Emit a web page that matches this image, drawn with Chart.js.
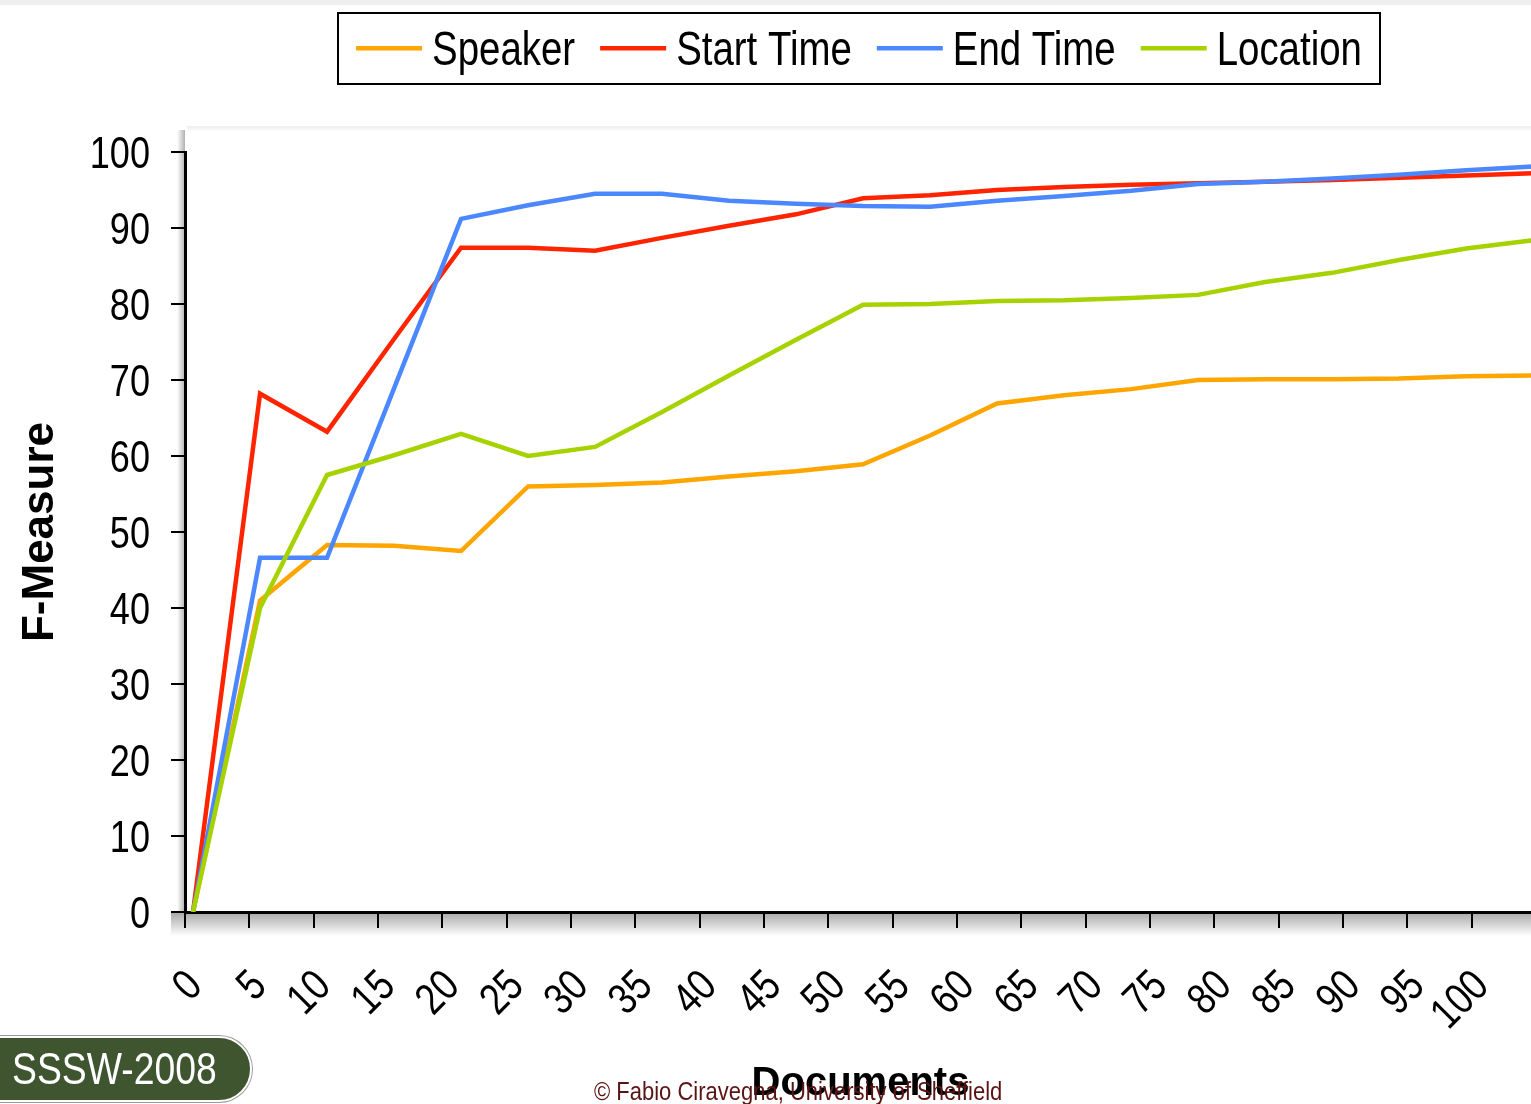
<!DOCTYPE html>
<html>
<head>
<meta charset="utf-8">
<script src="https://cdn.jsdelivr.net/npm/chart.js@4.4.1/dist/chart.umd.min.js"></script>
<style>
  html, body { margin:0; padding:0; background:#fff; width:1531px; height:1104px; overflow:hidden; position:relative; }
  #topbar { position:absolute; left:0; top:0; width:1531px; height:5px; background:#efefef; }
  #wrap { position:absolute; left:0; top:0; width:1560px; height:1104px; }
  #badge { position:absolute; left:-40px; top:1036px; width:288px; height:62px; border-radius:33px;
           background:#3e5530; border:2px solid #fff; box-shadow:0 0 0 1px #9a9a9a; }
  #badge span { position:absolute; left:50px; top:7px; color:#fff; font:45px "Liberation Sans", Arial, sans-serif;
                line-height:48px; white-space:nowrap; transform:scaleX(0.83); transform-origin:0 0; }
  #copy { position:absolute; left:594px; top:1077px; color:#5a1414; font:25px "Liberation Sans", Arial, sans-serif;
          line-height:28px; white-space:nowrap; transform:scaleX(0.88); transform-origin:0 0; }
</style>
</head>
<body>
<div id="topbar"></div>
<div id="wrap"><canvas id="c" width="1560" height="1104"></canvas></div>
<div id="badge"><span>SSSW-2008</span></div>
<div id="copy">© Fabio Ciravegna, University of Sheffield</div>
<script>
// ---- data ----
const categories = [0, 5, 10, 15, 20, 25, 30, 35, 40, 45, 50, 55, 60, 65, 70, 75, 80, 85, 90, 95, 100];
const xTickLabels = ['0','5','10','15','20','25','30','35','40','45','50','55','60','65','70','75','80','85','90','95','100'];
const yTickLabels = ['0','10','20','30','40','50','60','70','80','90','100'];
const seriesNames = ['Speaker', 'Start Time', 'End Time', 'Location'];
const speaker   = [0, 41.0, 48.3, 48.2, 47.5, 56.0, 56.2, 56.5, 57.3, 58.0, 58.9, 62.7, 66.9, 68.0, 68.8, 70.0, 70.1, 70.1, 70.2, 70.5, 70.6];
const startTime = [0, 68.2, 63.2, 75.4, 87.4, 87.4, 87.0, 88.7, 90.3, 91.8, 93.9, 94.3, 95.0, 95.4, 95.7, 95.9, 96.1, 96.3, 96.6, 96.9, 97.2];
const endTime   = [0, 46.6, 46.6, 68.9, 91.2, 93.0, 94.5, 94.5, 93.6, 93.2, 92.9, 92.8, 93.6, 94.2, 94.9, 95.8, 96.1, 96.5, 97.0, 97.6, 98.1];
const locationF = [0, 40.0, 57.5, 60.1, 62.9, 60.0, 61.2, 65.8, 70.6, 75.3, 79.9, 80.0, 80.4, 80.5, 80.8, 81.2, 82.9, 84.1, 85.8, 87.3, 88.4];
const seriesColors = ['#ffa500', '#ff2400', '#4b87ff', '#a6d200'];
const seriesOrder = [3, 2, 1, 0];

const SANS = '"Liberation Sans", Arial, sans-serif';
const allSeries = [speaker, startTime, endTime, locationF];

// narrow text: Liberation Sans squeezed horizontally, centred vertically on the cap height
function narrowText(c, text, x, y, size, sx, align, rot) {
  c.save();
  c.translate(x, y);
  if (rot) c.rotate(rot);
  c.scale(sx, 1);
  c.font = size + 'px ' + SANS;
  c.textAlign = align;
  c.textBaseline = 'alphabetic';
  c.fillStyle = '#000';
  c.fillText(text, 0, 0.358 * size);
  c.restore();
}

const decor = {
  id: 'decor',
  beforeDraw(chart) {
    const c = chart.ctx, a = chart.chartArea;
    c.save();
    let g = c.createLinearGradient(0, a.bottom, 0, a.bottom + 24);
    g.addColorStop(0, 'rgba(0,0,0,0.35)');
    g.addColorStop(1, 'rgba(0,0,0,0)');
    c.fillStyle = g;
    c.fillRect(a.left - 14, a.bottom, chart.width, 24);
    g = c.createLinearGradient(a.left, 0, a.left - 8, 0);
    g.addColorStop(0, 'rgba(0,0,0,0.30)');
    g.addColorStop(1, 'rgba(0,0,0,0)');
    c.fillStyle = g;
    c.fillRect(a.left - 8, a.top - 22, 8, a.bottom - a.top + 22);
    g = c.createLinearGradient(0, a.top - 26, 0, a.top - 20);
    g.addColorStop(0, 'rgba(0,0,0,0.07)');
    g.addColorStop(1, 'rgba(0,0,0,0)');
    c.fillStyle = g;
    c.fillRect(a.left + 2, a.top - 26, chart.width, 6);
    c.restore();
  },
  afterDraw(chart) {
    const c = chart.ctx;
    // tick labels from the scales
    const ys = chart.scales.y;
    ys.ticks.forEach((t, i) => {
      if (yTickLabels[i] === undefined) return;
      narrowText(c, yTickLabels[i], ys.right - 35, ys.getPixelForValue(t.value), 44, 0.82, 'right', 0);
    });
    const xs = chart.scales.x;
    xs.ticks.forEach((t, i) => {
      if (xTickLabels[i] === undefined) return;
      narrowText(c, xTickLabels[i], xs.getPixelForValue(t.value) + 8, xs.top + 65, 44, 0.82, 'right', -Math.PI / 4);
    });
    // legend
    c.save();
    c.strokeStyle = '#000';
    c.lineWidth = 2;
    c.strokeRect(338, 13, 1042, 71);
    c.font = '48px ' + SANS;
    const sw = 66, gapT = 10, gapI = 25, sx = 0.8;
    const ds = chart.data.datasets;
    const tw = ds.map(d => c.measureText(d.label).width * sx);
    const widths = tw.map(w => sw + gapT + w);
    const total = widths.reduce((s, w) => s + w, 0) + gapI * (ds.length - 1);
    let x = 338 + (1042 - total) / 2;
    ds.forEach((d, i) => {
      c.fillStyle = d.borderColor;
      c.fillRect(x, 46, sw, 4.5);
      narrowText(c, d.label, x + sw + gapT, 48, 48, sx, 'left', 0);
      x += widths[i] + gapI;
    });
    c.restore();
  }
};

const ctx = document.getElementById('c').getContext('2d');
new Chart(ctx, {
  type: 'line',
  data: {
    datasets: seriesNames.map((name, k) => ({
      label: name,
      data: allSeries[k].map((v, i) => ({ x: categories[i], y: v })),
      borderColor: seriesColors[k],
      backgroundColor: seriesColors[k],
      borderWidth: 4.5,
      pointRadius: 0,
      tension: 0,
      fill: false,
      order: seriesOrder[k],
      xAxisID: 'xd',
      yAxisID: 'y'
    }))
  },
  options: {
    responsive: false,
    animation: false,
    devicePixelRatio: 1,
    layout: { padding: { top: 152, right: 24, left: 0, bottom: 0 } },
    plugins: { legend: { display: false }, tooltip: { enabled: false } },
    scales: {
      x: {
        type: 'linear', position: 'bottom', min: 0, max: 105,
        ticks: { stepSize: 5, autoSkip: false, display: false },
        grid: { drawOnChartArea: false, drawTicks: true, tickLength: 16, color: '#000', lineWidth: 2 },
        border: { display: true, color: '#000', width: 3 },
        title: { display: true, text: 'Documents', color: '#000',
                 font: { family: SANS, size: 40, weight: 'bold', lineHeight: 1.0 },
                 padding: { top: 0, bottom: 0 } },
        afterFit: s => { s.height = 192; s.paddingLeft = 0; s.paddingRight = 0; }
      },
      xd: { type: 'linear', display: false, min: -0.6, max: 100.22 },
      y: {
        type: 'linear', position: 'left', min: 0, max: 100,
        ticks: { stepSize: 10, display: false },
        grid: { drawOnChartArea: false, drawTicks: true, tickLength: 14, color: '#000', lineWidth: 2 },
        border: { display: true, color: '#000', width: 3 },
        title: { display: true, text: 'F-Measure', color: '#000',
                 font: { family: SANS, size: 44, weight: 'bold', lineHeight: 1.0 },
                 padding: { top: 19, bottom: 0 } },
        afterFit: s => { s.width = 185; s.paddingTop = 0; s.paddingBottom = 0; }
      }
    }
  },
  plugins: [decor]
});
</script>
</body>
</html>
